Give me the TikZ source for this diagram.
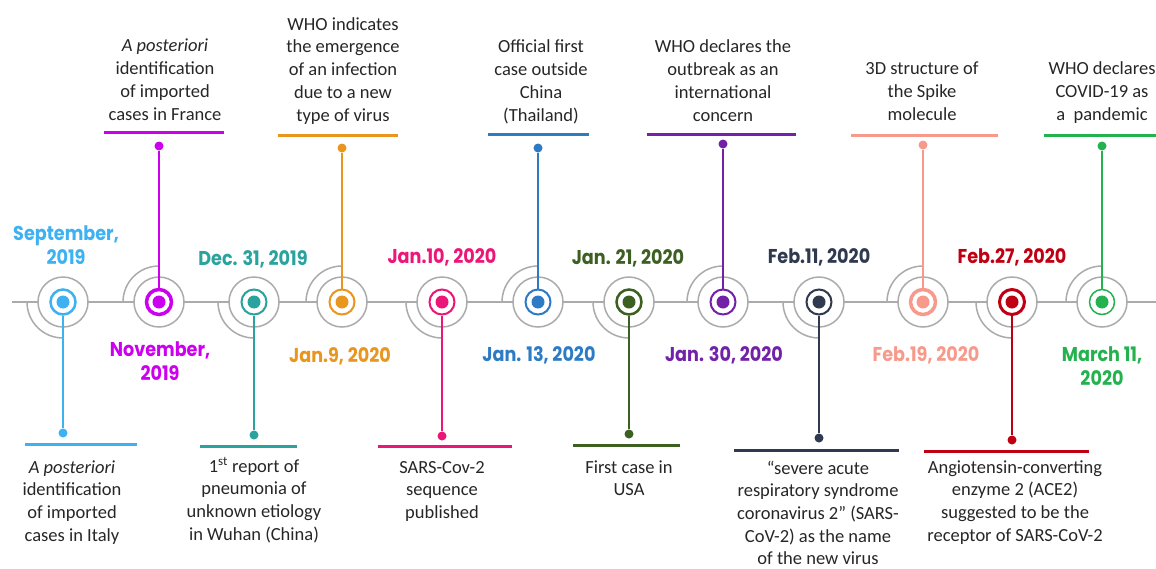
\documentclass[tikz,border=0pt]{standalone}
\usepackage{fontspec}
\setmainfont{Carlito}
\newfontfamily\datefont{Poppins}
\usepackage{graphicx}
\definecolor{lgray}{HTML}{ABABAB}
\definecolor{cSep}{HTML}{3DB1F2}
\definecolor{cNov}{HTML}{CC00EE}
\definecolor{cDec}{HTML}{2AA39E}
\definecolor{cJnine}{HTML}{E9961F}
\definecolor{cJten}{HTML}{EC1679}
\definecolor{cJthirteen}{HTML}{2E7BC5}
\definecolor{cJtwentyone}{HTML}{3C5F22}
\definecolor{cJthirty}{HTML}{7222A9}
\definecolor{cFeleven}{HTML}{2F3A4F}
\definecolor{cFnineteen}{HTML}{F79A8C}
\definecolor{cFtwentyseven}{HTML}{C00012}
\definecolor{cMar}{HTML}{24B24F}
\newcommand\bodyfont{\fontsize{18.5}{22.7}\selectfont}
\newcommand\dfont{\datefont\bfseries\fontsize{20}{24}\selectfont}
\newcommand\topblk[1]{\begin{tabular}[b]{@{}c@{}}#1\end{tabular}}
\newcommand\botblk[1]{\begin{tabular}[t]{@{}c@{}}#1\end{tabular}}
\newcommand\dsc[1]{\scalebox{0.88}[1]{#1}}
\tikzset{
  tline/.style={draw=lgray, line width=2pt},
  garc/.style={draw=lgray, line width=1.5pt},
  gcirc/.style={circle, draw=lgray, line width=1.5pt, fill=white, minimum size=50pt, inner sep=0pt},
  ring/.style={circle, draw=#1, fill=white, minimum size=25pt, inner sep=0pt},
  cdot/.style={circle, fill=#1, minimum size=13pt, inner sep=0pt},
  edot/.style={circle, fill=#1, minimum size=9pt, inner sep=0pt},
  stemline/.style={draw=#1, line width=2pt},
  barline/.style={draw=#1, line width=3pt},
  body/.style={font=\bodyfont, anchor=base, inner sep=0pt, text=black!85},
  datelbl/.style={font=\dfont, anchor=base, inner sep=0pt, text=#1},
}
% #1 id, #2 x, #3 colour, #4 arc end angle, #5 end-dot y, #6 bar left, #7 bar right, #8 bar y, #9 ring width
\newcommand\tlev[9]{%
  \draw[garc] (#2,302) ++(180:36) arc[start angle=180,end angle=#4,radius=36];
  \node[gcirc] (g#1) at (#2,302) {};
  \node[ring=#3, line width=#9] (r#1) at (#2,302) {};
  \node[cdot=#3] (c#1) at (#2,302) {};
  \node[edot=#3] (e#1) at (#2,#5) {};
  \draw[stemline=#3] (r#1) -- (e#1);
  \draw[barline=#3] (#6,#8) -- (#7,#8);
}
\begin{document}
\begin{tikzpicture}[x=1pt,y=-1pt]
\useasboundingbox (0,0) rectangle (1156,568);
\coordinate (tl0) at (12,302);
\coordinate (tl1) at (1156,302);
\draw[tline] (tl0) -- (tl1);

\tlev{a}{63}{cSep}{90}{433}{25}{137}{444}{2.5pt}
\tlev{b}{159}{cNov}{270}{146}{104}{224}{132}{3.5pt}
\tlev{c}{254}{cDec}{90}{435}{200}{297}{446}{2pt}
\tlev{d}{342}{cJnine}{270}{148}{278}{398}{135}{2pt}
\tlev{e}{442}{cJten}{90}{436}{378}{512}{446}{2pt}
\tlev{f}{538}{cJthirteen}{270}{148}{488}{589}{134}{2pt}
\tlev{g}{629}{cJtwentyone}{90}{434}{573}{680}{445}{2.5pt}
\tlev{h}{723}{cJthirty}{270}{144}{647}{796}{134}{2pt}
\tlev{i}{819}{cFeleven}{90}{438}{734}{899}{450}{2pt}
\tlev{j}{923}{cFnineteen}{270}{145}{851}{998}{135}{3.5pt}
\tlev{k}{1012}{cFtwentyseven}{90}{440}{924}{1089}{451}{3pt}
\tlev{l}{1102}{cMar}{270}{146}{1044}{1160}{135}{1.5pt}

% dates
\node[datelbl=cSep] (da) at (66,264) {\dsc{\topblk{September,\\2019}}};
\node[datelbl=cNov] (db) at (160,356) {\dsc{\botblk{November,\\2019}}};
\node[datelbl=cDec] (dc) at (253,265) {\dsc{Dec. 31, 2019}};
\node[datelbl=cJnine] (dd) at (340,362) {\dsc{Jan.9, 2020}};
\node[datelbl=cJten] (de) at (442,263) {\dsc{Jan.10, 2020}};
\node[datelbl=cJthirteen] (df) at (539,361) {\dsc{Jan. 13, 2020}};
\node[datelbl=cJtwentyone] (dg) at (628,264) {\dsc{Jan. 21, 2020}};
\node[datelbl=cJthirty] (dh) at (724,361) {\dsc{Jan. 30, 2020}};
\node[datelbl=cFeleven] (di) at (819,263) {\dsc{Feb.11, 2020}};
\node[datelbl=cFnineteen] (dj) at (926,361) {\dsc{Feb.19, 2020}};
\node[datelbl=cFtwentyseven] (dk) at (1012,263) {\dsc{Feb.27, 2020}};
\node[datelbl=cMar] (dl) at (1102,361) {\dsc{\botblk{March 11,\\2020}}};

% descriptions
\node[body] (ta) at (72,473) {\botblk{\textit{A posteriori}\\identification\\of imported\\cases in Italy}};
\node[body] (tb) at (165,120) {\topblk{\textit{A posteriori}\\identification\\of imported\\cases in France}};
\node[body] (tc) at (254,472) {\botblk{1\textsuperscript{st} report of\\pneumonia of\\unknown etiology\\in Wuhan (China)}};
\node[body] (td) at (343,121) {\topblk{WHO indicates\\the emergence\\of an infection\\due to a new\\type of virus}};
\node[body] (te) at (442,473) {\botblk{SARS-Cov-2\\sequence\\published}};
\node[body] (tf) at (541,121) {\topblk{Official first\\case outside\\China\\(Thailand)}};
\node[body] (tg) at (629,473) {\botblk{First case in\\USA}};
\node[body] (th) at (723,121) {\topblk{WHO declares the\\outbreak as an\\international\\concern}};
\node[body] (ti) at (818,474) {\botblk{“severe acute\\respiratory syndrome\\coronavirus 2” (SARS-\\CoV-2) as the name\\of the new virus}};
\node[body] (tj) at (922,120) {\topblk{3D structure of\\the Spike\\molecule}};
\node[body] (tk) at (1015,473) {\botblk{Angiotensin-converting\\enzyme 2 (ACE2)\\suggested to be the\\receptor of SARS-CoV-2}};
\node[body] (tl) at (1102,120) {\topblk{WHO declares\\COVID-19 as\\a\ \ pandemic}};
\end{tikzpicture}
\end{document}
